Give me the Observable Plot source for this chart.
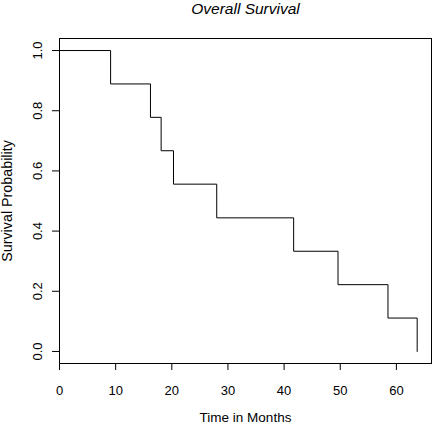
<!DOCTYPE html>
<html>
<head>
<meta charset="utf-8">
<script src="https://cdn.jsdelivr.net/npm/d3@7"></script>
<script src="https://cdn.jsdelivr.net/npm/@observablehq/plot@0.6"></script>
<style>
  html, body { margin: 0; padding: 0; background: white; }
</style>
</head>
<body>
<div id="chart"></div>
<script>
const titleText = "Overall Survival";
const xLabel = "Time in Months";
const yLabel = "Survival Probability";
const times = [0, 9.1, 16.2, 18.1, 20.3, 28.0, 41.7, 49.6, 58.5, 63.7];
const survival = [1, 0.889, 0.778, 0.667, 0.556, 0.444, 0.333, 0.222, 0.111, 0];
const xTicks = [0, 10, 20, 30, 40, 50, 60];
const yTicks = [0, 0.2, 0.4, 0.6, 0.8, 1.0];

const curve = times.map((t, i) => ({time: t, surv: survival[i]}));
const font = "'Liberation Sans', Arial, Helvetica, sans-serif";

const chart = Plot.plot({
  width: 432,
  height: 425,
  marginLeft: 59,
  marginRight: 1,
  marginTop: 38,
  marginBottom: 62,
  style: {fontFamily: font, fontSize: "13px", color: "black", background: "white"},
  x: {domain: [0, 66.25]},
  y: {domain: [-0.04, 1.04]},
  marks: [
    Plot.frame({stroke: "black", strokeWidth: 1}),
    Plot.line(curve, {x: "time", y: "surv", curve: "step-after", stroke: "black", strokeWidth: 1}),
    Plot.axisX({ticks: xTicks, tickSize: 7, tickPadding: 15, tickFormat: d => String(d), fontSize: 13, label: null}),
    Plot.axisY({ticks: yTicks, tickSize: 7, tickFormat: () => "", label: null}),
    Plot.text(yTicks, {y: d => d, text: d => d.toFixed(1), frameAnchor: "left", textAnchor: "middle", lineAnchor: "middle", dx: -22, rotate: -90, fontSize: 13, fill: "black"}),
    Plot.text([xLabel], {text: d => d, frameAnchor: "bottom", textAnchor: "middle", lineAnchor: "middle", dy: 54.5, fontSize: 13.5, fill: "black"}),
    Plot.text([yLabel], {text: d => d, frameAnchor: "left", textAnchor: "middle", lineAnchor: "middle", dx: -52, rotate: -90, fontSize: 14.3, fill: "black"}),
    Plot.text([titleText], {text: d => d, frameAnchor: "top", textAnchor: "middle", lineAnchor: "middle", dy: -29, fontSize: 15.5, fontStyle: "italic", fill: "black"})
  ]
});
document.getElementById("chart").appendChild(chart);
</script>
</body>
</html>
